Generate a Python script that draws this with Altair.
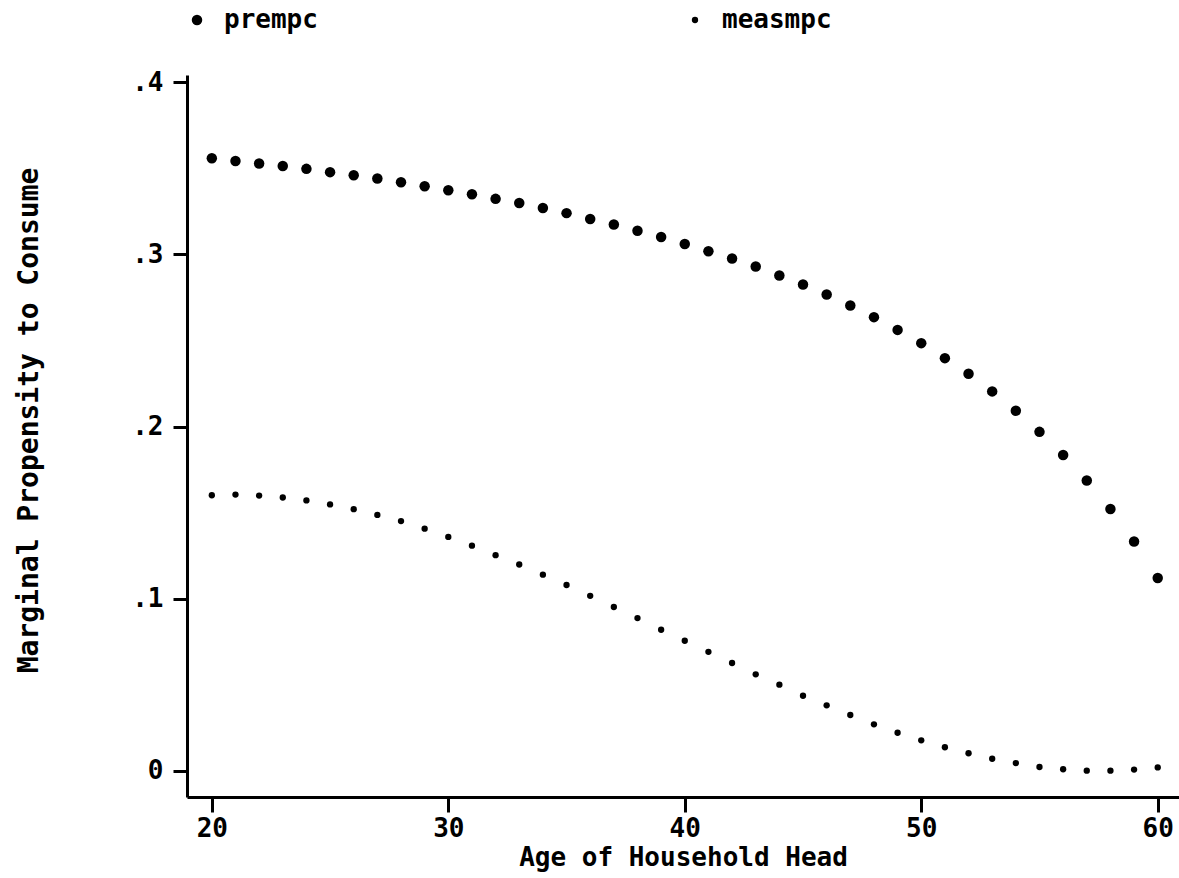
import altair as alt
import pandas as pd

ages = list(range(20, 61))

prempc = [0.3558, 0.3542, 0.3527, 0.3513, 0.3496, 0.3477, 0.3459, 0.3440, 0.3418, 0.3395,
          0.3372, 0.3349, 0.3322, 0.3298, 0.3269, 0.3239, 0.3205, 0.3173, 0.3137, 0.3100,
          0.3060, 0.3018, 0.2976, 0.2929, 0.2877, 0.2825, 0.2767, 0.2703, 0.2635, 0.2561,
          0.2484, 0.2397, 0.2306, 0.2204, 0.2092, 0.1969, 0.1835, 0.1687, 0.1521, 0.1332,
          0.1121]

measmpc = [0.1601, 0.1605, 0.1599, 0.1588, 0.1571, 0.1548, 0.1520, 0.1487, 0.1451, 0.1407,
           0.1359, 0.1308, 0.1253, 0.1199, 0.1140, 0.1080, 0.1017, 0.0952, 0.0888, 0.0820,
           0.0756, 0.0692, 0.0627, 0.0561, 0.0501, 0.0437, 0.0381, 0.0325, 0.0271, 0.0222,
           0.0178, 0.0138, 0.0103, 0.0071, 0.0046, 0.0023, 0.0010, 0.0002, 0.0002, 0.0008,
           0.0021]

series = ["prempc", "measmpc"]
x_ticks = [20, 30, 40, 50, 60]
y_ticks = [0, 0.1, 0.2, 0.3, 0.4]

df = pd.concat([
    pd.DataFrame({"age": ages, "value": prempc, "series": "prempc"}),
    pd.DataFrame({"age": ages, "value": measmpc, "series": "measmpc"}),
])

FONT = "DejaVu Sans Mono"

chart = alt.Chart(df).mark_point(filled=True, opacity=1, color="black").encode(
    x=alt.X("age:Q",
            scale=alt.Scale(domain=[18.95, 60.9], nice=False, zero=False),
            axis=alt.Axis(values=x_ticks, title="Age of Household Head",
                          tickSize=15, labelPadding=3, labelFlush=False,
                          labelOverlap=False, labelFontSize=26,
                          titleFontSize=26, titlePadding=3)),
    y=alt.Y("value:Q",
            scale=alt.Scale(domain=[-0.0151, 0.4041], nice=False, zero=False),
            axis=alt.Axis(values=y_ticks, title="Marginal Propensity to Consume",
                          tickSize=14, labelPadding=10, labelFontSize=26,
                          labelExpr="datum.value == 0 ? '0' : replace(format(datum.value, '.1f'), '0.', '.')",
                          titleFontSize=28, titleAngle=270, titleX=-158, titleY=345,
                          titleAlign="center", titleBaseline="middle")),
    size=alt.Size("series:N",
                  scale=alt.Scale(domain=series, range=[110, 40]),
                  legend=alt.Legend(title=None, orient="none", legendX=-3, legendY=-68,
                                    direction="horizontal", columns=2, columnPadding=364,
                                    labelFontSize=26, labelFont=FONT, labelFontWeight="bold",
                                    labelOffset=14, labelLimit=400,
                                    symbolFillColor="black", symbolStrokeColor="black",
                                    symbolType="circle", symbolOpacity=1)),
).properties(
    width=992, height=722,
    autosize=alt.AutoSizeParams(type="none"),
    padding={"left": 187, "top": 75, "right": 0, "bottom": 81},
    background="white",
).configure_view(
    stroke=None
).configure_axis(
    domainColor="black", domainWidth=3, tickColor="black", tickWidth=3,
    labelColor="black", titleColor="black", grid=False,
    labelFont=FONT, titleFont=FONT, labelFontWeight="bold", titleFontWeight="bold",
)

chart.save("out.html", embed_options={"renderer": "svg", "actions": False})
